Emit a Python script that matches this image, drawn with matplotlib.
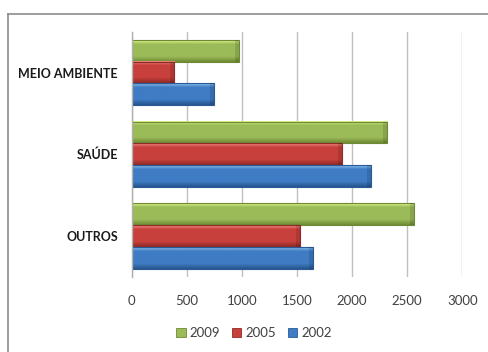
import matplotlib
matplotlib.use("Agg")
import matplotlib.pyplot as plt
import numpy as np
from matplotlib.colors import LinearSegmentedColormap
from matplotlib.patches import Patch
from matplotlib.lines import Line2D

categories = ["MEIO AMBIENTE", "SAÚDE", "OUTROS"]
series_names = ["2009", "2005", "2002"]
values_2009 = [970, 2320, 2560]
values_2005 = [385, 1905, 1525]
values_2002 = [745, 2170, 1648]
xticks = [0, 500, 1000, 1500, 2000, 2500, 3000]

series = [values_2009, values_2005, values_2002]
# (light, mid, dark) colours for gradients
palettes = [
    ("#DDF58A", "#9BBB59", "#6E8A34"),
    ("#F98C8A", "#C8403C", "#8E2A27"),
    ("#8FC2F2", "#3F7CC4", "#27548E"),
]
edge_cols = ["#6E8A34", "#8E2A27", "#2A5A96"]

plt.rcParams["font.family"] = ["Lato", "DejaVu Sans"]

fig = plt.figure(figsize=(4.89, 3.52), dpi=100)
ax = fig.add_axes([0.2693, 0.2136, 0.676, 0.6964])

n_cat = len(categories)
bh = 0.8 / 3
offsets = [-bh, 0, bh]
ypos = np.arange(n_cat)

ax.set_xlim(0, 3000)
ax.set_ylim(n_cat - 0.5, -0.5)

for s, (vals, pal, ec, off) in enumerate(zip(series, palettes, edge_cols, offsets)):
    cmap = LinearSegmentedColormap.from_list(
        "g%d" % s, [(0, pal[0]), (0.18, pal[1]), (0.75, pal[1]), (1, pal[2])])
    grad = np.linspace(0, 1, 64).reshape(-1, 1)
    for i, v in enumerate(vals):
        y0 = ypos[i] + off - bh / 2
        y1 = ypos[i] + off + bh / 2
        ax.imshow(grad, cmap=cmap, aspect="auto", extent=(0, v, y1, y0),
                  zorder=3, interpolation="bilinear")
        ax.add_patch(plt.Rectangle((0, y0), v, bh, fill=False, edgecolor=ec,
                                   linewidth=0.8, zorder=4))
        # bevelled right end
        ax.add_patch(plt.Rectangle((v - 35, y0), 35, bh, facecolor="black",
                                   alpha=0.12, linewidth=0, zorder=4))

ax.set_xlim(0, 3000)
ax.set_ylim(n_cat - 0.5, -0.5)

ax.set_xticks(xticks)
ax.set_xticklabels([str(t) for t in xticks], fontsize=9.5, color="#404040")
ax.set_yticks(ypos)
ax.set_yticklabels(categories, fontsize=9, fontweight="bold", color="#1a1a1a")
ax.tick_params(axis="x", length=0, pad=13)
ax.tick_params(axis="y", length=0, pad=10)

ax.grid(axis="x", color="#C0C0C0", linewidth=1.0, zorder=0)
ax.set_axisbelow(True)
for sp in ["top", "right", "bottom"]:
    ax.spines[sp].set_visible(False)
ax.spines["left"].set_color("#B0B0B0")
ax.spines["left"].set_linewidth(1.0)
ax.spines["left"].set_zorder(5)

# outer chart frame (only top and left visible)
fig.add_artist(Line2D([8 / 489, 1.02], [1 - 14 / 352, 1 - 14 / 352],
                      transform=fig.transFigure, color="#8C8C8C", linewidth=1.2))
fig.add_artist(Line2D([8 / 489, 8 / 489], [1 - 14 / 352, -0.02],
                      transform=fig.transFigure, color="#8C8C8C", linewidth=1.2))

handles = [Patch(facecolor=palettes[k][1], edgecolor=edge_cols[k], linewidth=0.6)
           for k in range(3)]
fig.legend(handles, series_names, loc="center",
           bbox_to_anchor=(254 / 489, 19 / 352), ncol=3, frameon=False,
           fontsize=9.5, handlelength=0.7, handleheight=0.7, handletextpad=0.3,
           columnspacing=0.9, labelcolor="#404040")

fig.savefig("out.png", dpi=100)
